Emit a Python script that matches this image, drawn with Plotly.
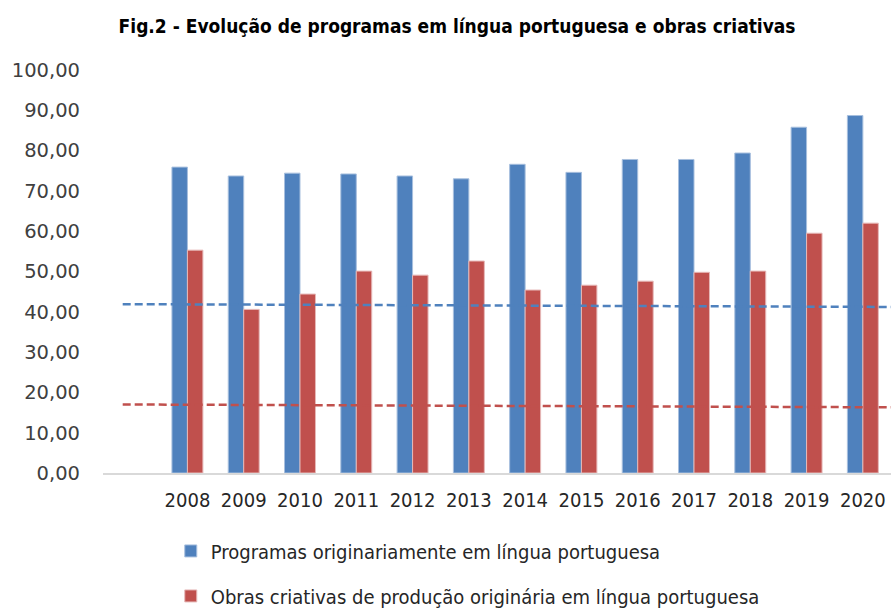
import plotly.graph_objects as go

years = ["2008", "2009", "2010", "2011", "2012", "2013", "2014",
         "2015", "2016", "2017", "2018", "2019", "2020"]
programas = [75.9, 73.7, 74.4, 74.2, 73.7, 73.0, 76.6, 74.6, 77.8, 77.8, 79.4, 85.8, 88.7]
obras = [55.3, 40.6, 44.4, 50.1, 49.1, 52.6, 45.4, 46.6, 47.6, 49.8, 50.1, 59.5, 62.0]
# dashed linear trend lines (start / end values)
trend_x = [-0.15, 13.5]
trend_prog = [41.9, 41.2]
trend_obras = [17.0, 16.3]

name_prog = "Programas originariamente em língua portuguesa"
name_obras = "Obras criativas de produção originária em língua portuguesa"

blue = "#4F81BD"
red = "#C0504D"
FONT = "DejaVu Sans Condensed, sans-serif"

xpos = list(range(1, len(years) + 1))

fig = go.Figure()
fig.add_trace(go.Bar(x=xpos, y=programas, name=name_prog, marker=dict(color=blue, line=dict(color="#A7BFDE", width=1)),
                     legendgroup="a"))
fig.add_trace(go.Bar(x=xpos, y=obras, name=name_obras, marker=dict(color=red, line=dict(color="#E6B9B8", width=1)),
                     legendgroup="b"))
fig.add_trace(go.Scatter(x=trend_x, y=trend_prog, mode="lines", showlegend=False,
                         line=dict(color=blue, width=2.5, dash="8px,4px")))
fig.add_trace(go.Scatter(x=trend_x, y=trend_obras, mode="lines", showlegend=False,
                         line=dict(color=red, width=2.5, dash="8px,4px")))

fig.update_layout(
    width=891, height=608,
    margin=dict(l=103, r=0, t=70, b=135, autoexpand=False),
    paper_bgcolor="white", plot_bgcolor="white",
    separators=",.",
    barmode="group", bargap=0.45, bargroupgap=0,
    title=dict(text="<b>Fig.2 - Evolução de programas em língua portuguesa e obras criativas</b>",
               x=0.513, xanchor="center", y=0.957, yanchor="middle",
               font=dict(family=FONT, size=19, color="black")),
    font=dict(family=FONT, color="#404040"),
    legend=dict(x=0.086, y=-0.145, xanchor="left", yanchor="top", orientation="v",
                traceorder="grouped", tracegroupgap=16,
                font=dict(family=FONT, size=20, color="#262626"),
                itemwidth=30),
    showlegend=True,
)
fig.update_xaxes(range=[-0.5, 13.5], tickmode="array", tickvals=xpos, ticktext=years,
                 showgrid=False, zeroline=False, showline=True, linecolor="#D9D9D9", linewidth=2,
                 ticks="", tickfont=dict(family=FONT, size=20, color="#262626"), ticklabelstandoff=8)
fig.update_yaxes(range=[0, 100], dtick=10, tickformat=".2f", showgrid=False, zeroline=False,
                 showline=False, ticks="", ticklabelstandoff=22,
                 tickfont=dict(family="DejaVu Sans", size=19.5, color="#404040"))

fig.write_html("out.html")
